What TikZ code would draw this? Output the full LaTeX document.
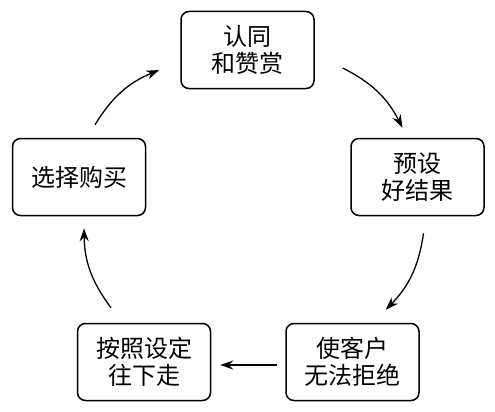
\documentclass[tikz,border=0pt]{standalone}
\usepackage{fontspec}
\newfontfamily\cjk{Noto Sans CJK SC}
\usetikzlibrary{arrows.meta}
\begin{document}
\begin{tikzpicture}[x=1pt,y=-1pt,
    kasten/.style={draw,line width=1.5pt,rounded corners=8pt,minimum width=133pt,minimum height=77pt,align=center,inner sep=0pt,font=\cjk\fontsize{24}{27}\selectfont},
    pfeil/.style={line width=1.3pt,-{Stealth[length=13pt,width=9pt]}}]

    %Rahmen
    \useasboundingbox (0,0) rectangle (495,412);

    %Kaesten
    \node[kasten] (oben) at (247.5,50) {认同\\和赞赏};
    \node[kasten] (rechts) at (417.5,177) {预设\\好结果};
    \node[kasten] (links) at (79,177) {选择购买};
    \node[kasten] (untenr) at (352.5,362) {使客户\\无法拒绝};
    \node[kasten] (untenl) at (144,362) {按照设定\\往下走};

    %Pfeile
    \draw[pfeil] ([shift={(28,18)}]oben.east) to[bend left=18] ([shift={(-15,-10)}]rechts.north);
    \draw[pfeil] ([shift={(6,17)}]rechts.south) to[bend left=18] ([shift={(-34,-13)}]untenr.north east);
    \draw[pfeil] ([shift={(-8,3)}]untenr.west) -- ([shift={(9,3)}]untenl.east);
    \draw[pfeil] ([shift={(-33,-15)}]untenl.north) to[bend left=18] ([shift={(5,12)}]links.south);
    \draw[pfeil] ([shift={(16,-13)}]links.north) to[bend left=18] ([shift={(-21,20)}]oben.west);

\end{tikzpicture}
\end{document}
